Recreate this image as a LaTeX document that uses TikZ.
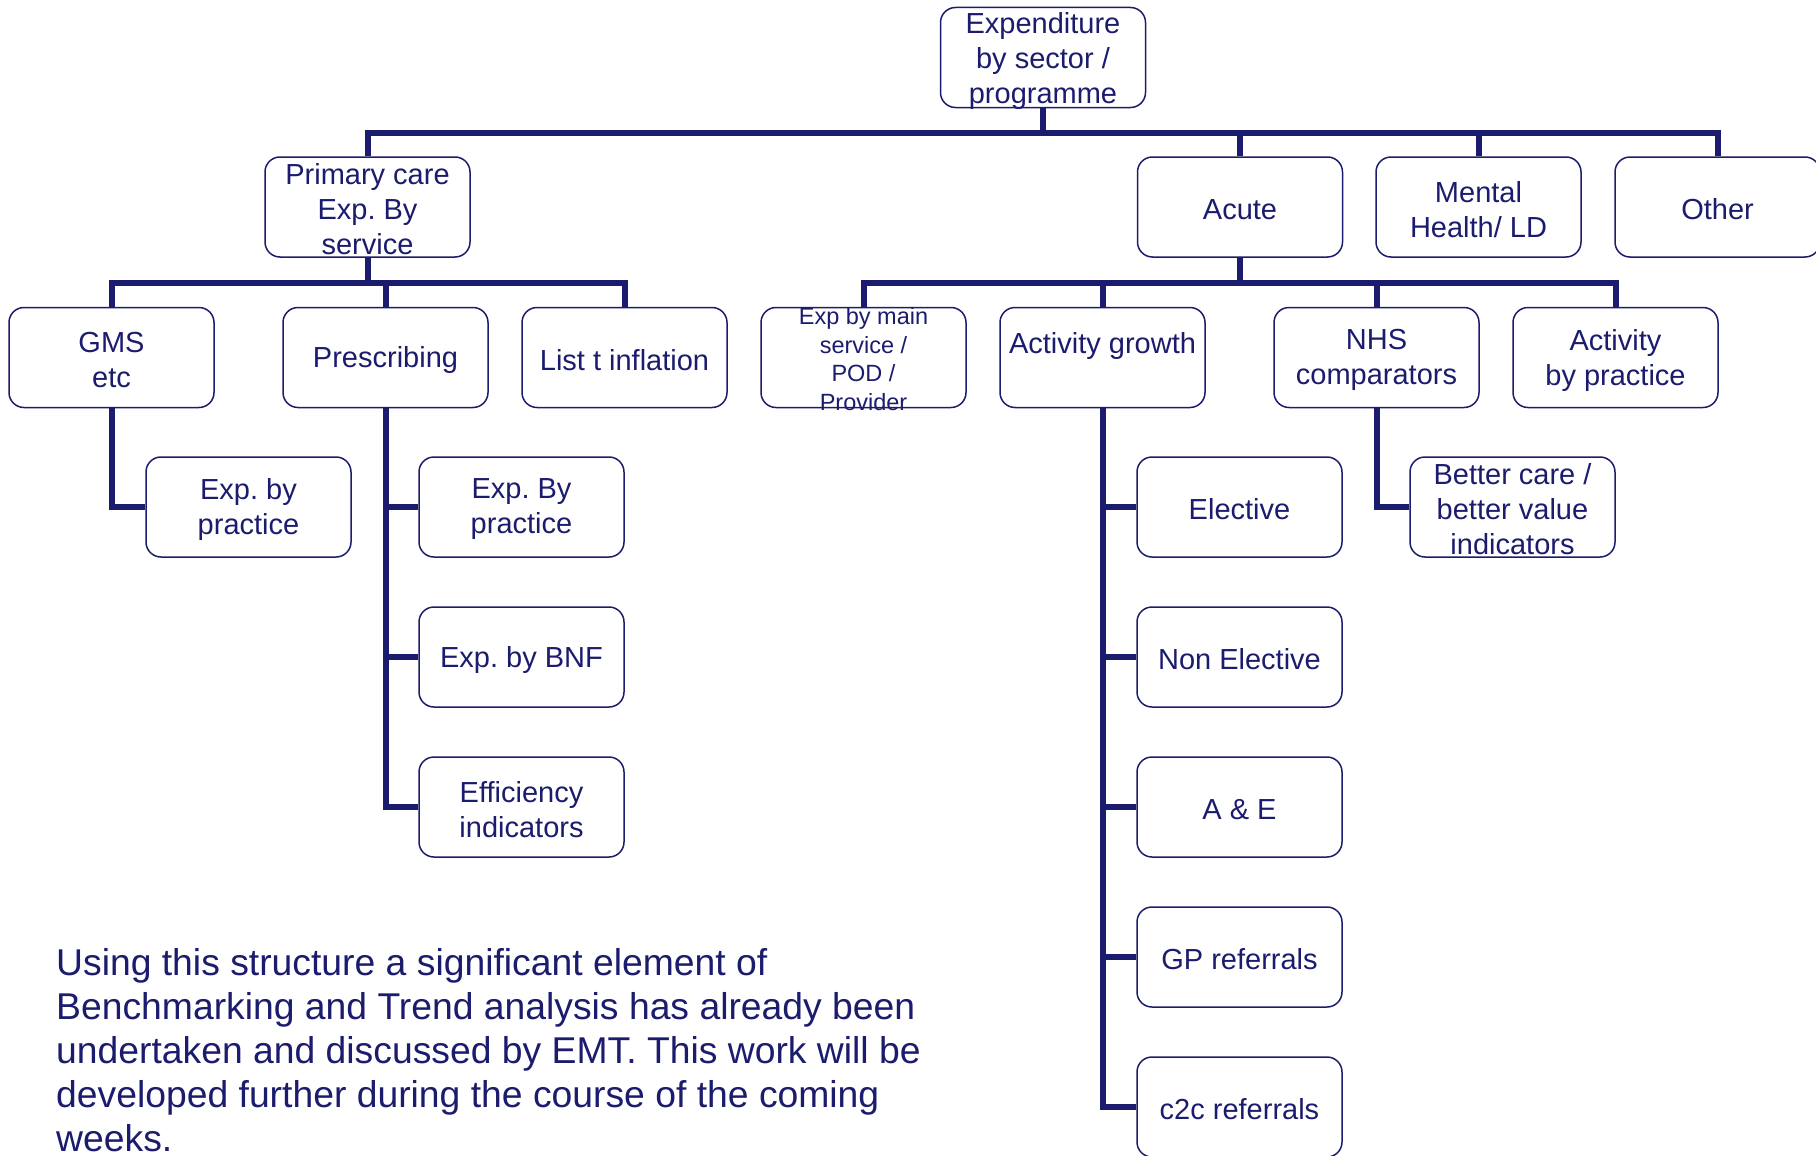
\documentclass[tikz,border=0pt]{standalone}
\usepackage{fontspec}
\setmainfont{Liberation Sans}
\definecolor{navy}{RGB}{28,28,110}
\begin{document}
\frenchspacing
\begin{tikzpicture}[x=1pt,y=-1pt,
  box/.style={draw=navy,line width=1.5pt,rounded corners=15pt,fill=white,
    minimum width=205pt,minimum height=100pt,inner sep=0pt},
  txt/.style={text=navy,align=center,font=\fontsize{29}{35}\selectfont,inner sep=0pt,yshift=-2.5pt},
  smalltxt/.style={text=navy,align=center,font=\fontsize{23.5}{28.5}\selectfont,inner sep=0pt,yshift=-1.5pt},
  conn/.style={draw=navy,line width=6pt}]
\useasboundingbox (0,0) rectangle (1816,1156);
\clip (0,0) rectangle (1816,1156);
\fill[white] (0,0) rectangle (1816,1156);

\coordinate (bus1) at (0,133);
\coordinate (bus2) at (0,283);

% level 0 and 1
\node[box,label={[txt,yshift=-1.5pt]center:{Expenditure\\by sector /\\programme}}] (top) at (1043,57.5) {};
\node[box,label={[txt]center:{Primary care\\Exp. By\\service}}] (pc) at (367.5,207) {};
\node[box,label={[txt]center:Acute}] (acute) at (1240,207) {};
\node[box,label={[txt]center:{Mental\\Health/ LD}}] (mental) at (1478.5,207) {};
\node[box,label={[txt]center:Other}] (other) at (1717.5,207) {};

% level 2
\node[box,label={[txt]center:{GMS\\etc}}] (gms) at (111.5,357.5) {};
\node[box,label={[txt]center:Prescribing}] (presc) at (385.5,357.5) {};
\node[box,label={[txt]center:List t inflation}] (list) at (624.5,357.5) {};
\node[box,label={[smalltxt]center:{Exp by main\\service /\\POD /\\Provider}}] (main) at (863.5,357.5) {};
\node[box,label={[txt,yshift=14pt]center:Activity growth}] (actg) at (1102.5,357.5) {};
\node[box,label={[txt]center:{NHS\\comparators}}] (nhs) at (1376.5,357.5) {};
\node[box,label={[txt]center:{Activity\\by practice}}] (actp) at (1615.5,357.5) {};

% level 3
\node[box,label={[txt]center:{Exp. by\\practice}}] (gmsc) at (248.5,507) {};
\node[box,label={[txt]center:{Exp. By\\practice}}] (pr1) at (521.5,507) {};
\node[box,label={[txt]center:Exp. by BNF}] (pr2) at (521.5,657) {};
\node[box,label={[txt]center:{Efficiency\\indicators}}] (pr3) at (521.5,807) {};
\node[box,label={[txt]center:Elective}] (ag1) at (1239.5,507) {};
\node[box,label={[txt]center:Non Elective}] (ag2) at (1239.5,657) {};
\node[box,label={[txt]center:A \& E}] (ag3) at (1239.5,807) {};
\node[box,label={[txt]center:GP referrals}] (ag4) at (1239.5,957) {};
\node[box,label={[txt]center:c2c referrals}] (ag5) at (1239.5,1107) {};
\node[box,label={[txt]center:{Better care /\\better value\\indicators}}] (nhsc) at (1512.5,507) {};

% connectors level 0-1
\draw[conn] (pc.north) -- (pc.north |- bus1) -- (other.north |- bus1) -- (other.north);
\draw[conn] (top.south) -- (top.south |- bus1);
\draw[conn] (acute.north) -- (acute.north |- bus1);
\draw[conn] (mental.north) -- (mental.north |- bus1);

% connectors level 1-2
\draw[conn] (gms.north) -- (gms.north |- bus2) -- (list.north |- bus2) -- (list.north);
\draw[conn] (pc.south) -- (pc.south |- bus2);
\draw[conn] (presc.north) -- (presc.north |- bus2);
\draw[conn] (main.north) -- (main.north |- bus2) -- (actp.north |- bus2) -- (actp.north);
\draw[conn] (acute.south) -- (acute.south |- bus2);
\draw[conn] (actg.north) -- (actg.north |- bus2);
\draw[conn] (nhs.north) -- (nhs.north |- bus2);

% elbows level 2-3
\draw[conn] (gms.south) |- (gmsc.west);
\draw[conn] (presc.south) |- (pr1.west);
\draw[conn] (presc.south) |- (pr2.west);
\draw[conn] (presc.south) |- (pr3.west);
\draw[conn] (actg.south) |- (ag1.west);
\draw[conn] (actg.south) |- (ag2.west);
\draw[conn] (actg.south) |- (ag3.west);
\draw[conn] (actg.south) |- (ag4.west);
\draw[conn] (actg.south) |- (ag5.west);
\draw[conn] (nhs.south) |- (nhsc.west);

% paragraph
\node[anchor=north west,inner sep=0pt,text=navy,align=left,
  font=\fontsize{37.3}{44}\selectfont] (para) at (56,948.5)
  {Using this structure a significant element of\\
   Benchmarking and Trend analysis has already been\\
   undertaken and discussed by EMT. This work will be\\
   developed further during the course of the coming\\
   weeks.};
\end{tikzpicture}
\end{document}
